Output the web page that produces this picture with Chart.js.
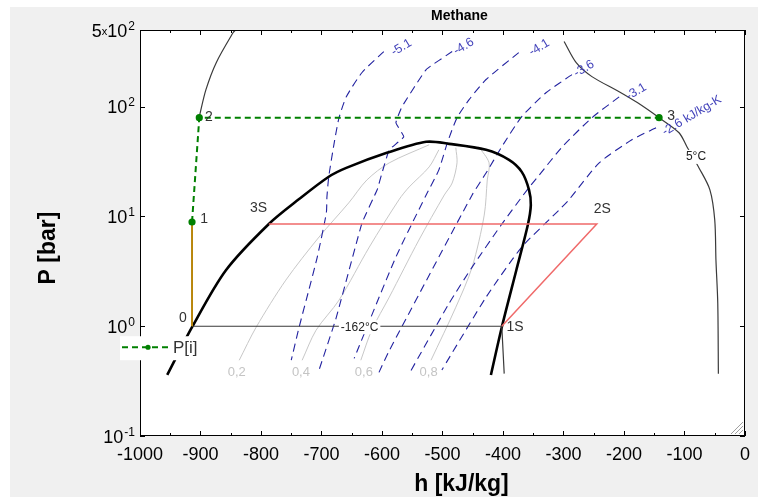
<!DOCTYPE html>
<html>
<head>
<meta charset="utf-8">
<script src="https://cdn.jsdelivr.net/npm/chart.js@4.4.0/dist/chart.umd.min.js"></script>
<style>
html, body { margin: 0; padding: 0; background: #fff; }
</style>
</head>
<body>
<canvas id="ph" width="758" height="497"></canvas>
<script>
// Methane p-h diagram (h in kJ/kg, P in bar)
var xTicks = [-1000, -900, -800, -700, -600, -500, -400, -300, -200, -100, 0];
var yTicks = [0.1, 1, 10, 100, 500];
var yTickMant = ['', '', '', '', '5'];
var yTickExp = ['-1', '0', '1', '2', '2'];

// saturation dome
var domeH = [-955, -914, -858, -787, -737, -688, -659, -592, -527, -489, -428, -390, -369, -357, -354, -359, -378, -402, -420];
var domeP = [0.36, 0.98, 3.24, 8.55, 14.4, 23.0, 27.7, 38.0, 47.9, 45.9, 40.5, 32.8, 25.5, 17.5, 12.7, 8.36, 3.24, 0.98, 0.36];

// isotherms
var t162H = [-914, -402, -398];
var t162P = [1, 1, 0.37];
var t5aH = [-299, -279, -253, -208, -178, -142, -109, -96, -76, -58, -50, -48, -45, -44];
var t5aP = [393, 252, 188, 137, 109, 79.4, 57.9, 43.2, 27.7, 17.5, 9.29, 4.0, 1.62, 0.37];
var t5bH = [-842, -846, -874, -891, -902];
var t5bP = [500, 474, 252, 143, 81.1];

// cycle points
var cycleH = [-914, -902, -142];
var cycleP = [8.91, 79.4, 79.4];
var pumpH = [-914, -914];
var pumpP = [1, 8.91];
var refH = [-787, -245, -402];
var refP = [8.55, 8.55, 1];

// isentropes
var s51H = [-597, -633, -659, -671, -679, -688, -691, -692, -707, -721, -737, -750];
var s51P = [318, 205, 123, 79.4, 46.9, 23.0, 15.1, 10.8, 4.27, 2.13, 0.98, 0.49];
var s46H = [-484, -527, -567, -577, -564, -588, -600, -608, -633, -676, -704];
var s46P = [318, 218, 100, 71.4, 53.2, 40.5, 24.9, 17.5, 8.73, 1.18, 0.40];
var s41H = [-374, -428, -456, -476, -492, -506, -527, -577, -646];
var s41P = [311, 177, 116, 79.4, 46.9, 26.6, 15.7, 4.27, 0.51];
var s36H = [-286, -329, -369, -402, -428, -451, -588, -605];
var s36P = [196, 134, 81.1, 43.2, 24.9, 15.7, 0.60, 0.38];
var s31H = [-208, -253, -302, -340, -360, -403, -451, -489, -555];
var s31P = [123, 79.4, 43.2, 23.9, 17.5, 8.36, 3.46, 1.62, 0.37];
var s26H = [-147, -187, -241, -291, -307, -369, -428, -501];
var s26P = [64.3, 50.0, 30.8, 14.2, 11.5, 5.26, 1.84, 0.40];

// vapour quality lines
var q2H = [-836, -808, -759, -704, -655, -625, -588, -522];
var q2P = [0.49, 0.98, 2.63, 6.5, 13.3, 21.5, 30.8, 45.0];
var q4H = [-732, -709, -671, -621, -572, -555, -522, -506];
var q4P = [0.49, 0.92, 1.73, 5.26, 14.2, 18.6, 28.3, 40.5];
var q6H = [-635, -617, -588, -539, -497, -484, -476, -478];
var q6P = [0.49, 0.92, 1.84, 6.10, 15.7, 20.2, 30.8, 42.3];
var q8H = [-519, -478, -451, -431, -426, -423, -440];
var q8P = [0.49, 1.49, 3.46, 10.3, 21.5, 30.8, 43.2];

// text labels (data coordinates)
var pointText = ['0', '1', '2', '3', '3S', '2S', '1S'];
var pointTextH = [-929, -894, -886, -122, -804, -236, -380];
var pointTextP = [1.18, 9.49, 81, 82.8, 12.0, 11.7, 0.98];
var isoText = ['-162°C', '5°C'];
var isoTextH = [-637, -81];
var isoTextP = [0.98, 34.9];
var sText = ['-5.1', '-4.6', '-4.1', '-3.6', '-3.1', '-2.6 kJ/kg-K'];
var sTextH = [-568, -465, -340, -266, -180, -88];
var sTextP = [346, 353, 346, 222, 137, 82.8];
var qText = ['0,2', '0,4', '0,6', '0,8'];
var qTextH = [-840, -734, -630, -523];
var qTextP = [0.38, 0.38, 0.38, 0.38];

var FONT = "'Liberation Sans', Arial, sans-serif";
var BLUE = '#2222a0';

function pts(hs, ps) {
    return hs.map(function(h, i) { return {x: h, y: ps[i]}; });
}
function line(label, hs, ps, color, width, dash, tension) {
    return {
        label: label, data: pts(hs, ps), showLine: true,
        borderColor: color, borderWidth: width, borderDash: dash || [],
        pointRadius: 0, tension: tension || 0, fill: false
    };
}

var cycle = line('P[i]', cycleH, cycleP, '#008000', 2, [6, 4], 0);
cycle.pointRadius = 2.6;
cycle.pointBackgroundColor = '#008000';
cycle.pointBorderColor = '#008000';

var datasets = [
    cycle,
    line('pump', pumpH, pumpP, '#b8860b', 2, [], 0),
    line('ref', refH, refP, '#f06a6a', 1.5, [], 0),
    line('-162', t162H, t162P, '#3a3a3a', 1.2, [], 0),
    line('5a', t5aH, t5aP, '#3a3a3a', 1.2, [], 0.3),
    line('5b', t5bH, t5bP, '#3a3a3a', 1.2, [], 0.3),
    line('dome', domeH, domeP, '#000000', 2.6, [], 0.3),
    line('s51', s51H, s51P, BLUE, 1.1, [8, 5], 0.2),
    line('s46', s46H, s46P, BLUE, 1.1, [8, 5], 0.1),
    line('s41', s41H, s41P, BLUE, 1.1, [8, 5], 0.2),
    line('s36', s36H, s36P, BLUE, 1.1, [8, 5], 0.2),
    line('s31', s31H, s31P, BLUE, 1.1, [8, 5], 0.2),
    line('s26', s26H, s26P, BLUE, 1.1, [8, 5], 0.2),
    line('q2', q2H, q2P, '#c8c8c8', 1, [], 0.3),
    line('q4', q4H, q4P, '#c8c8c8', 1, [], 0.3),
    line('q6', q6H, q6P, '#c8c8c8', 1, [], 0.3),
    line('q8', q8H, q8P, '#c8c8c8', 1, [], 0.3)
];

function pos(chart, h, p) {
    return [chart.scales.x.getPixelForValue(h), chart.scales.y.getPixelForValue(p)];
}

var decor = {
    id: 'decor',
    beforeDraw: function(chart) {
        var ctx = chart.ctx, a = chart.chartArea;
        ctx.save();
        ctx.fillStyle = '#ffffff';
        ctx.fillRect(0, 0, chart.width, chart.height);
        ctx.fillStyle = '#f0f0f0';
        ctx.fillRect(10, 7, chart.width - 10, chart.height - 7);
        ctx.fillStyle = '#ffffff';
        ctx.fillRect(a.left, a.top, a.right - a.left, a.bottom - a.top);
        ctx.restore();
    },
    afterDatasetsDraw: function(chart) {
        var ctx = chart.ctx, a = chart.chartArea;
        var xs = chart.scales.x, ys = chart.scales.y;
        ctx.save();

        // frame + inward ticks
        ctx.strokeStyle = '#000';
        ctx.lineWidth = 1;
        ctx.strokeRect(a.left + 0.5, a.top + 0.5, a.right - a.left - 1, a.bottom - a.top - 1);
        ctx.beginPath();
        xTicks.forEach(function(v, i) {
            var x = Math.round(xs.getPixelForValue(v)) + 0.5;
            ctx.moveTo(x, a.bottom); ctx.lineTo(x, a.bottom - 5);
            ctx.moveTo(x, a.top); ctx.lineTo(x, a.top + 5);
            if (i < xTicks.length - 1) {
                var xm = Math.round(xs.getPixelForValue((v + xTicks[i + 1]) / 2)) + 0.5;
                ctx.moveTo(xm, a.bottom); ctx.lineTo(xm, a.bottom - 3);
                ctx.moveTo(xm, a.top); ctx.lineTo(xm, a.top + 3);
            }
        });
        yTicks.forEach(function(v) {
            var y = Math.round(ys.getPixelForValue(v)) + 0.5;
            ctx.moveTo(a.left, y); ctx.lineTo(a.left + 5, y);
            ctx.moveTo(a.right, y); ctx.lineTo(a.right - 5, y);
        });
        ctx.stroke();

        // resize grip in the corner
        ctx.strokeStyle = '#a0a0a0';
        ctx.beginPath();
        [4, 8, 12].forEach(function(d) {
            ctx.moveTo(a.right - 2 - d, a.bottom - 2);
            ctx.lineTo(a.right - 2, a.bottom - 2 - d);
        });
        ctx.stroke();

        // y tick labels with exponents
        ctx.fillStyle = '#000';
        ctx.textBaseline = 'alphabetic';
        yTicks.forEach(function(v, i) {
            var y = ys.getPixelForValue(v);
            var right = a.left - 5;
            ctx.font = '12px ' + FONT;
            var we = ctx.measureText(yTickExp[i]).width;
            ctx.textAlign = 'left';
            ctx.fillText(yTickExp[i], right - we, y - 0.5);
            ctx.font = '18px ' + FONT;
            var wb = ctx.measureText('10').width;
            var xb = right - we - 1 - wb;
            ctx.fillText('10', xb, y + 6.5);
            if (yTickMant[i]) {
                ctx.font = '11px ' + FONT;
                var wx = ctx.measureText('x').width;
                ctx.fillText('x', xb - wx, y + 4.5);
                ctx.font = '18px ' + FONT;
                var wm = ctx.measureText(yTickMant[i]).width;
                ctx.fillText(yTickMant[i], xb - wx - wm, y + 6.5);
            }
        });

        // titles
        ctx.textAlign = 'center';
        ctx.textBaseline = 'middle';
        ctx.font = 'bold 14px ' + FONT;
        ctx.fillText('Methane', (a.left + a.right) / 2 + 17, 16);
        ctx.font = 'bold 23px ' + FONT;
        ctx.fillText('h [kJ/kg]', (a.left + a.right) / 2 + 19, 485);
        ctx.save();
        ctx.translate(49, (a.top + a.bottom) / 2 + 15);
        ctx.rotate(-Math.PI / 2);
        ctx.fillText('P [bar]', 0, 0);
        ctx.restore();

        // point labels
        ctx.fillStyle = '#333';
        ctx.font = '14px ' + FONT;
        pointText.forEach(function(t, i) {
            var p = pos(chart, pointTextH[i], pointTextP[i]);
            ctx.fillText(t, p[0], p[1]);
        });

        // isotherm labels on white
        ctx.font = '12px ' + FONT;
        isoText.forEach(function(t, i) {
            var p = pos(chart, isoTextH[i], isoTextP[i]);
            var w = ctx.measureText(t).width;
            ctx.fillStyle = '#fff';
            ctx.fillRect(p[0] - w / 2 - 2, p[1] - 7, w + 4, 14);
            ctx.fillStyle = '#222';
            ctx.fillText(t, p[0], p[1]);
        });

        // quality labels
        ctx.fillStyle = '#c4c4c4';
        ctx.font = '13px ' + FONT;
        qText.forEach(function(t, i) {
            var p = pos(chart, qTextH[i], qTextP[i]);
            ctx.fillText(t, p[0], p[1]);
        });

        // entropy labels, rotated along the lines
        ctx.fillStyle = '#4444bb';
        ctx.font = '12.5px ' + FONT;
        sText.forEach(function(t, i) {
            var p = pos(chart, sTextH[i], sTextP[i]);
            ctx.save();
            ctx.translate(p[0], p[1]);
            ctx.rotate(-31 * Math.PI / 180);
            ctx.fillText(t, 0, 0);
            ctx.restore();
        });

        // legend box
        var lx = a.left - 20, ly = ys.getPixelForValue(1) + 10;
        ctx.fillStyle = '#fff';
        ctx.fillRect(lx, ly, 86, 24);
        ctx.strokeStyle = cycle.borderColor;
        ctx.lineWidth = 2;
        ctx.setLineDash(cycle.borderDash);
        ctx.beginPath();
        ctx.moveTo(lx + 2, ly + 11);
        ctx.lineTo(lx + 52, ly + 11);
        ctx.stroke();
        ctx.setLineDash([]);
        ctx.fillStyle = cycle.pointBackgroundColor;
        ctx.beginPath();
        ctx.arc(lx + 28, ly + 11, 2.6, 0, Math.PI * 2);
        ctx.fill();
        ctx.fillStyle = '#333';
        ctx.font = '17px ' + FONT;
        ctx.textAlign = 'left';
        ctx.fillText(cycle.label, lx + 53, ly + 12);

        ctx.restore();
    }
};

var chart = new Chart(document.getElementById('ph'), {
    type: 'scatter',
    data: {datasets: datasets},
    options: {
        responsive: false,
        animation: false,
        events: [],
        layout: {padding: {left: 0, right: 12, top: 30, bottom: 0}},
        plugins: {legend: {display: false}, tooltip: {enabled: false}, title: {display: false}},
        scales: {
            x: {
                type: 'linear', min: -1000, max: 0,
                grid: {display: false, drawTicks: false},
                border: {display: false},
                afterBuildTicks: function(s) { s.ticks = xTicks.map(function(v) { return {value: v}; }); },
                afterFit: function(s) { s.height = 61; },
                ticks: {
                    color: '#000', font: {family: FONT, size: 18}, padding: 8, maxRotation: 0, autoSkip: false,
                    callback: function(v) { return String(v); }
                }
            },
            y: {
                type: 'logarithmic', min: 0.1, max: 500,
                grid: {display: false, drawTicks: false},
                border: {display: false},
                ticks: {display: false},
                afterFit: function(s) { s.width = 140; }
            }
        }
    },
    plugins: [decor]
});
</script>
</body>
</html>
